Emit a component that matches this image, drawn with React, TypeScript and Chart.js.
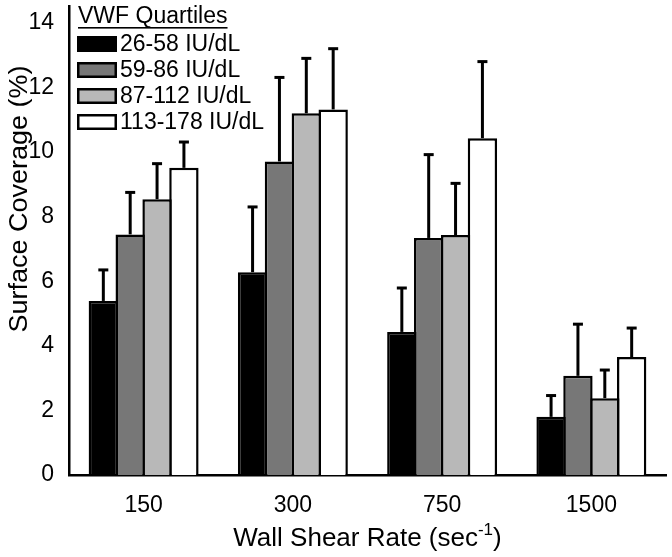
import React, { useEffect, useRef } from "react";
import { Chart, registerables } from "chart.js";

Chart.register(...registerables);

const categories = ["150", "300", "750", "1500"];
const seriesNames = ["26-58 IU/dL", "59-86 IU/dL", "87-112 IU/dL", "113-178 IU/dL"];
const seriesColors = ["#000000", "#777777", "#b8b8b8", "#ffffff"];

const q1Means = [5.39, 6.28, 4.43, 1.8];
const q2Means = [7.45, 9.71, 7.34, 3.07];
const q3Means = [8.54, 11.2, 7.43, 2.38];
const q4Means = [9.51, 11.32, 10.43, 3.65];

const q1Err = [0.96, 2.02, 1.36, 0.66];
const q2Err = [1.3, 2.6, 2.58, 1.6];
const q3Err = [1.1, 1.7, 1.6, 0.87];
const q4Err = [0.8, 1.88, 2.37, 0.9];

const yTicks = [0, 2, 4, 6, 8, 10, 12, 14];

const legendTitle = "VWF Quartiles";
const yTitle = "Surface Coverage (%)";
const xTitleMain = "Wall Shear Rate (sec";
const xTitleSup = "-1";
const xTitleEnd = ")";

const FONT = "'Liberation Sans', Arial, sans-serif";

const means = [q1Means, q2Means, q3Means, q4Means];
const errs = [q1Err, q2Err, q3Err, q4Err];

const decorPlugin = {
  id: "decor",
  afterDatasetsDraw(chart: any) {
    const ctx = chart.ctx;
    const yScale = chart.scales.y;
    ctx.save();
    ctx.strokeStyle = "#000";
    ctx.lineWidth = 3;
    ctx.lineCap = "butt";
    chart.data.datasets.forEach((ds: any, i: number) => {
      const meta = chart.getDatasetMeta(i);
      meta.data.forEach((bar: any, j: number) => {
        const v = ds.data[j];
        const e = errs[i][j];
        const x = bar.x;
        const y0 = yScale.getPixelForValue(v);
        const y1 = yScale.getPixelForValue(v + e);
        ctx.beginPath();
        ctx.moveTo(x, y0);
        ctx.lineTo(x, y1);
        ctx.stroke();
        ctx.beginPath();
        ctx.moveTo(x - 5, y1);
        ctx.lineTo(x + 5, y1);
        ctx.stroke();
      });
    });
    ctx.restore();
  },
  afterDraw(chart: any) {
    const ctx = chart.ctx;
    const area = chart.chartArea;
    ctx.save();
    ctx.fillStyle = "#000";
    // legend
    ctx.font = `23px ${FONT}`;
    ctx.textAlign = "left";
    ctx.textBaseline = "middle";
    const lx = 78;
    ctx.fillText(legendTitle, lx, 17);
    const tw = ctx.measureText(legendTitle).width;
    ctx.fillRect(lx, 27, tw, 1.6);
    seriesNames.forEach((name, i) => {
      const cy = 44 + i * 26;
      ctx.fillStyle = "#000";
      ctx.fillRect(77, cy - 8, 40, 16);
      ctx.fillStyle = seriesColors[i];
      ctx.fillRect(79.5, cy - 5.5, 35, 11);
      ctx.fillStyle = "#000";
      ctx.fillText(name, 120, cy + 1);
    });
    // y title
    ctx.save();
    ctx.translate(20, 199);
    ctx.rotate(-Math.PI / 2);
    ctx.scale(1.08, 1);
    ctx.font = `25px ${FONT}`;
    ctx.textAlign = "center";
    ctx.textBaseline = "middle";
    ctx.fillText(yTitle, 0, 0);
    ctx.restore();
    // x title with superscript
    ctx.textAlign = "left";
    ctx.textBaseline = "alphabetic";
    ctx.font = `26px ${FONT}`;
    const w1 = ctx.measureText(xTitleMain).width;
    const w3 = ctx.measureText(xTitleEnd).width;
    ctx.font = `17px ${FONT}`;
    const w2 = ctx.measureText(xTitleSup).width;
    const total = w1 + w2 + w3;
    const cx = (area.left + area.right) / 2;
    let x = cx - total / 2;
    const base = 546;
    ctx.font = `26px ${FONT}`;
    ctx.fillText(xTitleMain, x, base);
    x += w1;
    ctx.font = `17px ${FONT}`;
    ctx.fillText(xTitleSup, x, base - 11);
    x += w2;
    ctx.font = `26px ${FONT}`;
    ctx.fillText(xTitleEnd, x, base);
    ctx.restore();
  },
};

export default function App() {
  const ref = useRef<HTMLCanvasElement | null>(null);
  useEffect(() => {
    document.body.style.margin = "0";
    const canvas = ref.current;
    if (!canvas) return;
    const chart = new Chart(canvas, {
      type: "bar",
      data: {
        labels: categories,
        datasets: seriesNames.map((name, i) => ({
          label: name,
          data: means[i],
          backgroundColor: seriesColors[i],
          borderColor: "#000",
          borderWidth: 2.5,
          borderSkipped: "start",
          categoryPercentage: 0.72,
          barPercentage: 1.093,
        })),
      },
      options: {
        responsive: false,
        animation: false,
        devicePixelRatio: 1,
        layout: { padding: { top: 6.7, right: 6, left: 0, bottom: 0 } },
        plugins: {
          legend: { display: false },
          tooltip: { enabled: false },
          title: { display: false },
        },
        scales: {
          x: {
            grid: { display: false },
            border: { display: true, color: "#000", width: 2.5 },
            ticks: {
              color: "#000",
              font: { family: FONT, size: 23 },
              padding: 9,
              maxRotation: 0,
            },
            afterFit(scale: any) {
              scale.height = 82;
              scale.paddingLeft = 0;
              scale.paddingRight = 0;
            },
          },
          y: {
            min: 0,
            max: 14.5,
            grid: { display: false },
            border: { display: true, color: "#000", width: 2.5 },
            afterBuildTicks(scale: any) {
              scale.ticks = yTicks.map((v) => ({ value: v }));
            },
            ticks: {
              color: "#000",
              font: { family: FONT, size: 23 },
              padding: 7,
            },
            afterFit(scale: any) {
              scale.width = 69;
              scale.paddingTop = 0;
              scale.paddingBottom = 0;
            },
          },
        },
      },
      plugins: [decorPlugin],
    });
    return () => chart.destroy();
  }, []);
  return (
    <div style={{ width: 672, height: 557, background: "#fff" }}>
      <canvas ref={ref} width={672} height={557} />
    </div>
  );
}
